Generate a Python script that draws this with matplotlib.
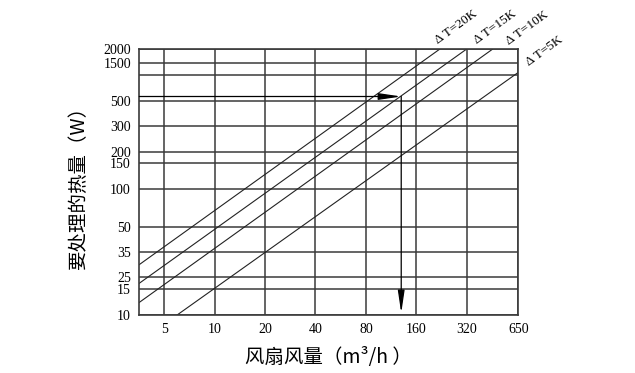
import numpy as np
import matplotlib
matplotlib.use('Agg')
import matplotlib.pyplot as plt

# data
flow_ticks = [5, 10, 20, 40, 80, 160, 320, 650]
heat_ticks = [10, 15, 25, 35, 50, 100, 150, 200, 300, 500, 1000, 1500, 2000]
heat_labels = ['10', '15', '25', '35', '50', '100', '150', '200', '300', '500', '', '1500', '2000']

dt_names = ['Δ T=20K', 'Δ T=15K', 'Δ T=10K', 'Δ T=5K']
dt_flow = [[3.55, 220], [3.55, 318], [3.55, 455], [5.97, 650]]
dt_heat = [[29.6, 2000], [19.4, 2000], [12.2, 2000], [10, 1090]]

# worked example: ~560 W on the 15K line -> ~130 m3/h
ex_flow = 130
ex_heat = 560

# the heat axis is a hand-drawn scale: pixel height of each gridline
heat_pos = np.array([315, 289.3, 277.3, 252, 226.7, 189, 163.3, 151.7, 126, 100.7, 75, 62.7, 49.3])
lg = np.log10(heat_ticks)


def fwd(v):
    v = np.clip(np.asarray(v, dtype=float), 1e-9, None)
    return np.interp(np.log10(v), lg, -heat_pos)


def inv(p):
    return 10 ** np.interp(p, -heat_pos, lg)


num_font = 'Liberation Serif'
cjk = ['Noto Sans CJK SC', 'DejaVu Sans']

fig = plt.figure(figsize=(6.35, 3.73), dpi=100)
ax = fig.add_axes([139.3 / 635, 1 - 315 / 373, (518.3 - 139.3) / 635, (315 - 49.3) / 373])

ax.set_xscale('log')
ax.set_yscale('function', functions=(fwd, inv))
ax.set_xlim(3.55, 650)
ax.set_ylim(10, 2000)

ax.set_xticks(flow_ticks)
ax.set_xticklabels([str(t) for t in flow_ticks], fontname=num_font, fontsize=10)
ax.set_yticks(heat_ticks)
ax.set_yticklabels(heat_labels, fontname=num_font, fontsize=10)
ax.xaxis.set_minor_locator(plt.NullLocator())
ax.yaxis.set_minor_locator(plt.NullLocator())
ax.tick_params(length=0, pad=6)

ax.grid(True, color='#3a3a3a', lw=1.1)
for s in ax.spines.values():
    s.set_color('#3a3a3a')
    s.set_linewidth(1.2)

# delta T lines
offs = [(12, 16), (21, 16), (25, 15), (19, 15)]
for name, fx, hy, off in zip(dt_names, dt_flow, dt_heat, offs):
    ax.plot(fx, hy, color='#222222', lw=0.8)
    ax.annotate(name, xy=(fx[1], hy[1]), xytext=off, textcoords='offset points',
                ha='center', va='center', rotation=36, rotation_mode='anchor',
                fontname=num_font, fontsize=9.5, annotation_clip=False)

# example arrows
ap = dict(arrowstyle='-|>,head_length=1.35,head_width=0.2', color='black',
          lw=0.9, shrinkA=0, shrinkB=0, mutation_scale=10)
ax.annotate('', xy=(ex_flow, ex_heat), xytext=(3.55, ex_heat), arrowprops=ap)
ax.annotate('', xy=(ex_flow, 10.3), xytext=(ex_flow, ex_heat), arrowprops=ap)

ax.set_ylabel('要处理的热量（W）', family=cjk, fontsize=14, labelpad=10)
ax.set_xlabel('风扇风量（m³/h ）', family=cjk, fontsize=14, labelpad=8)

fig.savefig('out.png', dpi=100)
